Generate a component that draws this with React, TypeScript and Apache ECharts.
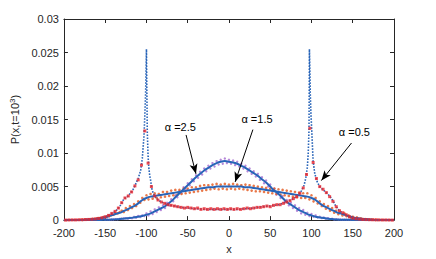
import React, { useEffect, useRef } from "react";
import * as echarts from "echarts";

// ---------- data ----------
const X_TICK_MIN = -200;
const X_TICK_MAX = 200;
const X_TICK_STEP = 50;
const Y_TICK_MAX = 0.03;
const Y_TICK_STEP = 0.005;

// alpha = 0.5 theory (blue dotted)
const A05_THEORY_X = [
  -200, -190, -180, -170, -160, -155, -150, -145, -140, -135,
  -131, -128, -125, -122, -119, -116, -113, -110, -107, -105,
  -103, -102, -101, -100, -99, -98, -97.2, -96, -95, -93.5,
  -92, -90, -86, -80, -74, -66, -58, -50, -40, -30,
  -20, -10, 0,
  10, 20, 30, 40, 50, 60, 70, 78, 84, 88,
  91, 93, 95, 96, 97, 97.5, 98.5, 99.5, 100.5, 102,
  104, 107, 110, 114, 118, 122, 126, 129, 133, 137,
  142, 147, 152, 160, 170, 180, 190, 200,
];
const A05_THEORY_Y = [
  0, 0.00002, 0.00005, 0.0001, 0.0002, 0.0003, 0.0005, 0.0008, 0.0011, 0.0016,
  0.0023, 0.003, 0.0034, 0.0036, 0.0041, 0.0046, 0.0054, 0.0062, 0.0074, 0.0092,
  0.0125, 0.0155, 0.019, 0.0255, 0.0133, 0.0095, 0.0079, 0.0066, 0.006, 0.0047,
  0.0041, 0.0036, 0.003, 0.0026, 0.0023, 0.0021, 0.0019, 0.0018, 0.0017, 0.0016,
  0.0016, 0.0016, 0.0016,
  0.0016, 0.0017, 0.0018, 0.002, 0.0021, 0.0023, 0.0027, 0.0032, 0.0037, 0.0044,
  0.0052, 0.0062, 0.0079, 0.0098, 0.0135, 0.0255, 0.019, 0.0155, 0.013, 0.0088,
  0.0069, 0.0057, 0.005, 0.0045, 0.0041, 0.0036, 0.0029, 0.0022, 0.0015, 0.0011,
  0.0007, 0.0004, 0.0002, 0.0001, 0.00006, 0.00003, 0.00001, 0,
];

// alpha = 0.5 simulation (red squares), x from -198 step 4
const A05_SIM_X0 = -198;
const A05_SIM_DX = 4;
const A05_SIM_Y = [
  0, 0.00002, 0.00003, 0.00003, 0.00005, 0.00006, 0.00008, 0.0001, 0.00013, 0.00018,
  0.00025, 0.00035, 0.0005, 0.0007, 0.001, 0.0013, 0.0018, 0.0026, 0.0033, 0.0036,
  0.0042, 0.0051, 0.006, 0.0082, 0.0133, 0.0085, 0.005, 0.0036, 0.003, 0.0027,
  0.0025, 0.0023, 0.0022, 0.0021, 0.002, 0.0019, 0.0018, 0.0019, 0.0018, 0.0017,
  0.0018, 0.0016, 0.0017, 0.0016, 0.0017, 0.0016, 0.0017, 0.0016, 0.0017, 0.0016,
  0.0017, 0.0016, 0.0017, 0.0016, 0.0017, 0.0018, 0.0017, 0.0018, 0.0019, 0.0019,
  0.002, 0.0021, 0.002, 0.0022, 0.0023, 0.0023, 0.0025, 0.0027, 0.0029, 0.0032,
  0.0035, 0.004, 0.0048, 0.0068, 0.0137, 0.0086, 0.0062, 0.005, 0.0046, 0.0041,
  0.0035, 0.0028, 0.002, 0.0014, 0.0011, 0.0008, 0.0005, 0.0003, 0.0002, 0.00015,
  0.0001, 0.00008, 0.00006, 0.00005, 0.00004, 0.00003, 0.00002, 0.00002, 0.00001, 0,
];

// theory curves for alpha = 1.5 and 2.5, x from -200 step 5
const THEORY_X0 = -200;
const THEORY_DX = 5;
const A15_THEORY_Y = [
  0, 0, 0.00001, 0.00002, 0.00003, 0.00006, 0.0001, 0.00015, 0.0002, 0.0003,
  0.0004, 0.0006, 0.0008, 0.001, 0.0012, 0.0015, 0.0018, 0.0021, 0.0025, 0.003,
  0.0033, 0.0035, 0.0036, 0.0037, 0.0038, 0.0039, 0.004, 0.0041, 0.0042, 0.0043,
  0.0044, 0.0045, 0.0046, 0.0047, 0.0048, 0.0049, 0.0049, 0.005, 0.005, 0.005,
  0.005, 0.005, 0.005, 0.005, 0.0049, 0.0049, 0.0048, 0.0047, 0.0046, 0.0045,
  0.0044, 0.0043, 0.0042, 0.0041, 0.004, 0.0039, 0.0038, 0.0037, 0.0036, 0.0035,
  0.0033, 0.003, 0.0025, 0.0021, 0.0018, 0.0015, 0.0012, 0.001, 0.0008, 0.0006,
  0.0004, 0.0003, 0.0002, 0.00015, 0.0001, 0.00006, 0.00003, 0.00002, 0.00001, 0,
  0,
];
const A25_THEORY_Y = [
  0, 0, 0, 0, 0, 0, 0, 0.00001, 0.00002, 0.00003,
  0.00005, 0.00007, 0.0001, 0.00013, 0.0002, 0.00025, 0.0003, 0.0004, 0.0005, 0.0006,
  0.0008, 0.001, 0.0013, 0.0016, 0.0019, 0.0023, 0.0028, 0.0034, 0.004, 0.0046,
  0.0052, 0.0058, 0.0064, 0.0069, 0.0074, 0.0078, 0.0082, 0.0085, 0.0087, 0.0088,
  0.0087, 0.0086, 0.0084, 0.0081, 0.0078, 0.0074, 0.007, 0.0066, 0.0061, 0.0056,
  0.005, 0.0044, 0.0039, 0.0033, 0.0027, 0.0023, 0.0019, 0.0015, 0.0012, 0.0009,
  0.0007, 0.0005, 0.0004, 0.0003, 0.0002, 0.00015, 0.0001, 0.00007, 0.00005, 0.00004,
  0.00003, 0.00002, 0.00001, 0, 0, 0, 0, 0, 0, 0,
  0,
];

// alpha = 1.5 simulation (orange dots), x from -180 step 2.5
const A15_SIM_X0 = -180;
const A15_SIM_DX = 2.5;
const A15_SIM_Y = [
  0.00005, 0.00003, 0.00008, 0.00006, 0.00012, 0.0001, 0.00018, 0.00015, 0.00025, 0.0003,
  0.0003, 0.00045, 0.0004, 0.00055, 0.0006, 0.00075, 0.0008, 0.001, 0.001, 0.0012,
  0.0014, 0.0012, 0.0018, 0.0015, 0.0021, 0.0018, 0.0024, 0.0021, 0.0028, 0.0026,
  0.0033, 0.003, 0.0037, 0.0031, 0.0039, 0.0032, 0.004, 0.0033, 0.0039, 0.0034,
  0.0042, 0.0035, 0.0042, 0.0036, 0.0044, 0.0037, 0.0045, 0.0038, 0.0045, 0.0039,
  0.0047, 0.004, 0.0047, 0.0041, 0.0049, 0.0042, 0.0049, 0.0043, 0.0051, 0.0044,
  0.0052, 0.0045, 0.0052, 0.0046, 0.0053, 0.0047, 0.0054, 0.0046, 0.0053, 0.0047,
  0.0054, 0.0046, 0.0053, 0.0047, 0.0054, 0.0046, 0.0053, 0.0047, 0.0052, 0.0046,
  0.0053, 0.0045, 0.0052, 0.0044, 0.0051, 0.0043, 0.005, 0.0043, 0.0049, 0.0042,
  0.0048, 0.0041, 0.0047, 0.004, 0.0047, 0.0039, 0.0046, 0.0038, 0.0045, 0.0037,
  0.0044, 0.0036, 0.0043, 0.0035, 0.0042, 0.0034, 0.0041, 0.0033, 0.004, 0.0033,
  0.004, 0.0031, 0.0037, 0.0028, 0.0033, 0.0025, 0.0028, 0.0021, 0.0024, 0.0017,
  0.0021, 0.0014, 0.0018, 0.0011, 0.0014, 0.0009, 0.0012, 0.0007, 0.001, 0.0006,
  0.0007, 0.0004, 0.0005, 0.0003, 0.0004, 0.0002, 0.00025, 0.00015, 0.00015, 0.0001,
  0.00008, 0.00006, 0.00005, 0.00004, 0.00003,
];

// alpha = 2.5 simulation (purple dots), x from -150 step 2.5
const A25_SIM_X0 = -150;
const A25_SIM_DX = 2.5;
const A25_SIM_Y = [
  0.00004, 0.00008, 0.00005, 0.0001, 0.0001, 0.00014, 0.00012, 0.00018, 0.0002, 0.00024,
  0.0003, 0.00022, 0.00036, 0.00028, 0.00048, 0.00036, 0.0006, 0.00045, 0.0007, 0.0006,
  0.001, 0.0007, 0.0013, 0.0009, 0.0016, 0.0012, 0.0019, 0.0015, 0.0022, 0.0018,
  0.0026, 0.0022, 0.0031, 0.0028, 0.0037, 0.0034, 0.0043, 0.004, 0.0049, 0.0046,
  0.0055, 0.0052, 0.0061, 0.0058, 0.0067, 0.0063, 0.0072, 0.0068, 0.0077, 0.0073,
  0.0081, 0.0077, 0.0085, 0.008, 0.0088, 0.0083, 0.009, 0.0084, 0.0092, 0.0085,
  0.009, 0.0084, 0.0089, 0.0082, 0.0087, 0.008, 0.0084, 0.0077, 0.0081, 0.0073,
  0.0077, 0.0069, 0.0073, 0.0065, 0.0069, 0.006, 0.0064, 0.0055, 0.0059, 0.005,
  0.0053, 0.0044, 0.0047, 0.0038, 0.0042, 0.0033, 0.0036, 0.0027, 0.003, 0.0022,
  0.0026, 0.0018, 0.0022, 0.0014, 0.0018, 0.001, 0.0015, 0.0008, 0.0011, 0.0006,
  0.0009, 0.0005, 0.0007, 0.0004, 0.0005, 0.0003, 0.0004, 0.0002, 0.0003, 0.00015,
  0.0002, 0.0001, 0.00014, 0.00008, 0.0001, 0.00005, 0.00007, 0.00004, 0.00005, 0.00003,
  0.00003,
];

// annotations
const ANNOTATION_LABELS = ["α =2.5", "α =1.5", "α =0.5"];
const ANNOTATION_TEXT_AT = [
  [-59, 0.0139],
  [34, 0.0151],
  [152, 0.0132],
];
const ARROW_FROM = [
  [-52, 0.0127],
  [29, 0.0135],
  [148.5, 0.0115],
];
const ARROW_TO = [
  [-40, 0.0069],
  [7.5, 0.0057],
  [112, 0.0059],
];

// ---------- styles ----------
const AXIS_COLOR = "#262626";
const BLUE = "#2864b8";
const RED = "#e8232b";
const ORANGE = "#e4561c";
const PURPLE = "#a46ad0";
const FONT = "Liberation Sans, Arial, sans-serif";

const grid = (x0: number, dx: number, ys: number[]) =>
  ys.map((y, i) => [x0 + dx * i, y]);

const fmtY = (v: number) => (v === 0 ? "0" : String(+v.toFixed(3)));

export default function App() {
  const ref = useRef<HTMLDivElement>(null);

  useEffect(() => {
    document.body.style.margin = "0";
    if (!ref.current) return;
    const chart = echarts.init(ref.current, null, { renderer: "svg" });

    const axisCommon = {
      axisLine: { show: true, onZero: false, lineStyle: { color: AXIS_COLOR, width: 1 } },
      axisTick: { show: true, inside: true, length: 4, lineStyle: { color: AXIS_COLOR } },
      splitLine: { show: false },
    };

    const option: any = {
      animation: false,
      backgroundColor: "#ffffff",
      grid: { left: 57, right: 42, top: 19, bottom: 35, containLabel: false },
      xAxis: [
        {
          type: "value",
          min: X_TICK_MIN,
          max: X_TICK_MAX,
          interval: X_TICK_STEP,
          position: "bottom",
          ...axisCommon,
          axisLabel: { color: AXIS_COLOR, fontSize: 11, fontFamily: FONT, margin: 7 },
          name: "x",
          nameLocation: "middle",
          nameGap: 21,
          nameTextStyle: { color: AXIS_COLOR, fontSize: 11, fontFamily: FONT },
        },
        {
          type: "value",
          min: X_TICK_MIN,
          max: X_TICK_MAX,
          interval: X_TICK_STEP,
          position: "top",
          ...axisCommon,
          axisLabel: { show: false },
        },
      ],
      yAxis: [
        {
          type: "value",
          min: 0,
          max: Y_TICK_MAX,
          interval: Y_TICK_STEP,
          position: "left",
          ...axisCommon,
          axisLabel: {
            color: AXIS_COLOR,
            fontSize: 11,
            fontFamily: FONT,
            margin: 5,
            formatter: fmtY,
          },
          name: "{a|P(x,t=10}{s|3}{a|)}",
          nameLocation: "middle",
          nameRotate: 90,
          nameGap: 38,
          nameTextStyle: {
            color: AXIS_COLOR,
            fontFamily: FONT,
            rich: {
              a: { fontSize: 11, fontFamily: FONT, color: AXIS_COLOR },
              s: { fontSize: 8, fontFamily: FONT, color: AXIS_COLOR, padding: [0, 0, 6, 0] },
            },
          },
        },
        {
          type: "value",
          min: 0,
          max: Y_TICK_MAX,
          interval: Y_TICK_STEP,
          position: "right",
          ...axisCommon,
          axisLabel: { show: false },
        },
      ],
      series: [
        {
          name: "α=2.5 sim",
          type: "scatter",
          data: grid(A25_SIM_X0, A25_SIM_DX, A25_SIM_Y),
          symbol: "circle",
          symbolSize: 2.4,
          itemStyle: { color: PURPLE },
          silent: true,
          z: 2,
        },
        {
          name: "α=1.5 sim",
          type: "scatter",
          data: grid(A15_SIM_X0, A15_SIM_DX, A15_SIM_Y),
          symbol: "circle",
          symbolSize: 2.6,
          itemStyle: { color: ORANGE },
          silent: true,
          z: 2,
        },
        {
          name: "α=0.5 theory",
          type: "line",
          data: A05_THEORY_X.map((x, i) => [x, A05_THEORY_Y[i]]),
          showSymbol: false,
          symbol: "none",
          lineStyle: { color: BLUE, width: 1.6, type: [1.6, 1.4] },
          silent: true,
          z: 3,
          markLine: {
            silent: true,
            symbol: ["none", "arrow"],
            symbolSize: [6, 10],
            label: { show: false },
            lineStyle: { color: "#000", width: 1, type: "solid" },
            emphasis: { disabled: true },
            data: ARROW_FROM.map((f, i) => [
              { coord: f, symbol: "none" },
              { coord: ARROW_TO[i], symbol: "arrow" },
            ]),
          },
        },
        {
          name: "α=1.5 theory",
          type: "line",
          data: grid(THEORY_X0, THEORY_DX, A15_THEORY_Y),
          showSymbol: false,
          symbol: "none",
          smooth: 0.3,
          lineStyle: { color: BLUE, width: 2 },
          silent: true,
          z: 3,
        },
        {
          name: "α=2.5 theory",
          type: "line",
          data: grid(THEORY_X0, THEORY_DX, A25_THEORY_Y),
          showSymbol: false,
          symbol: "none",
          smooth: 0.3,
          lineStyle: { color: BLUE, width: 2 },
          silent: true,
          z: 3,
        },
        {
          name: "α=0.5 sim",
          type: "scatter",
          data: grid(A05_SIM_X0, A05_SIM_DX, A05_SIM_Y),
          symbol: "rect",
          symbolSize: 3,
          itemStyle: { color: RED },
          silent: true,
          z: 4,
        },
      ],
    };

    chart.setOption(option);

    const graphics = ANNOTATION_LABELS.map((label, i) => {
      const p = chart.convertToPixel({ seriesIndex: 2 }, ANNOTATION_TEXT_AT[i]) as number[];
      return {
        type: "text",
        x: p[0],
        y: p[1],
        silent: true,
        z: 10,
        style: {
          text: label,
          fill: "#000",
          fontSize: 11,
          fontFamily: FONT,
          align: "center",
          verticalAlign: "middle",
        },
      };
    });
    chart.setOption({ graphic: graphics });

    return () => chart.dispose();
  }, []);

  return <div ref={ref} style={{ width: 436, height: 259 }} />;
}
